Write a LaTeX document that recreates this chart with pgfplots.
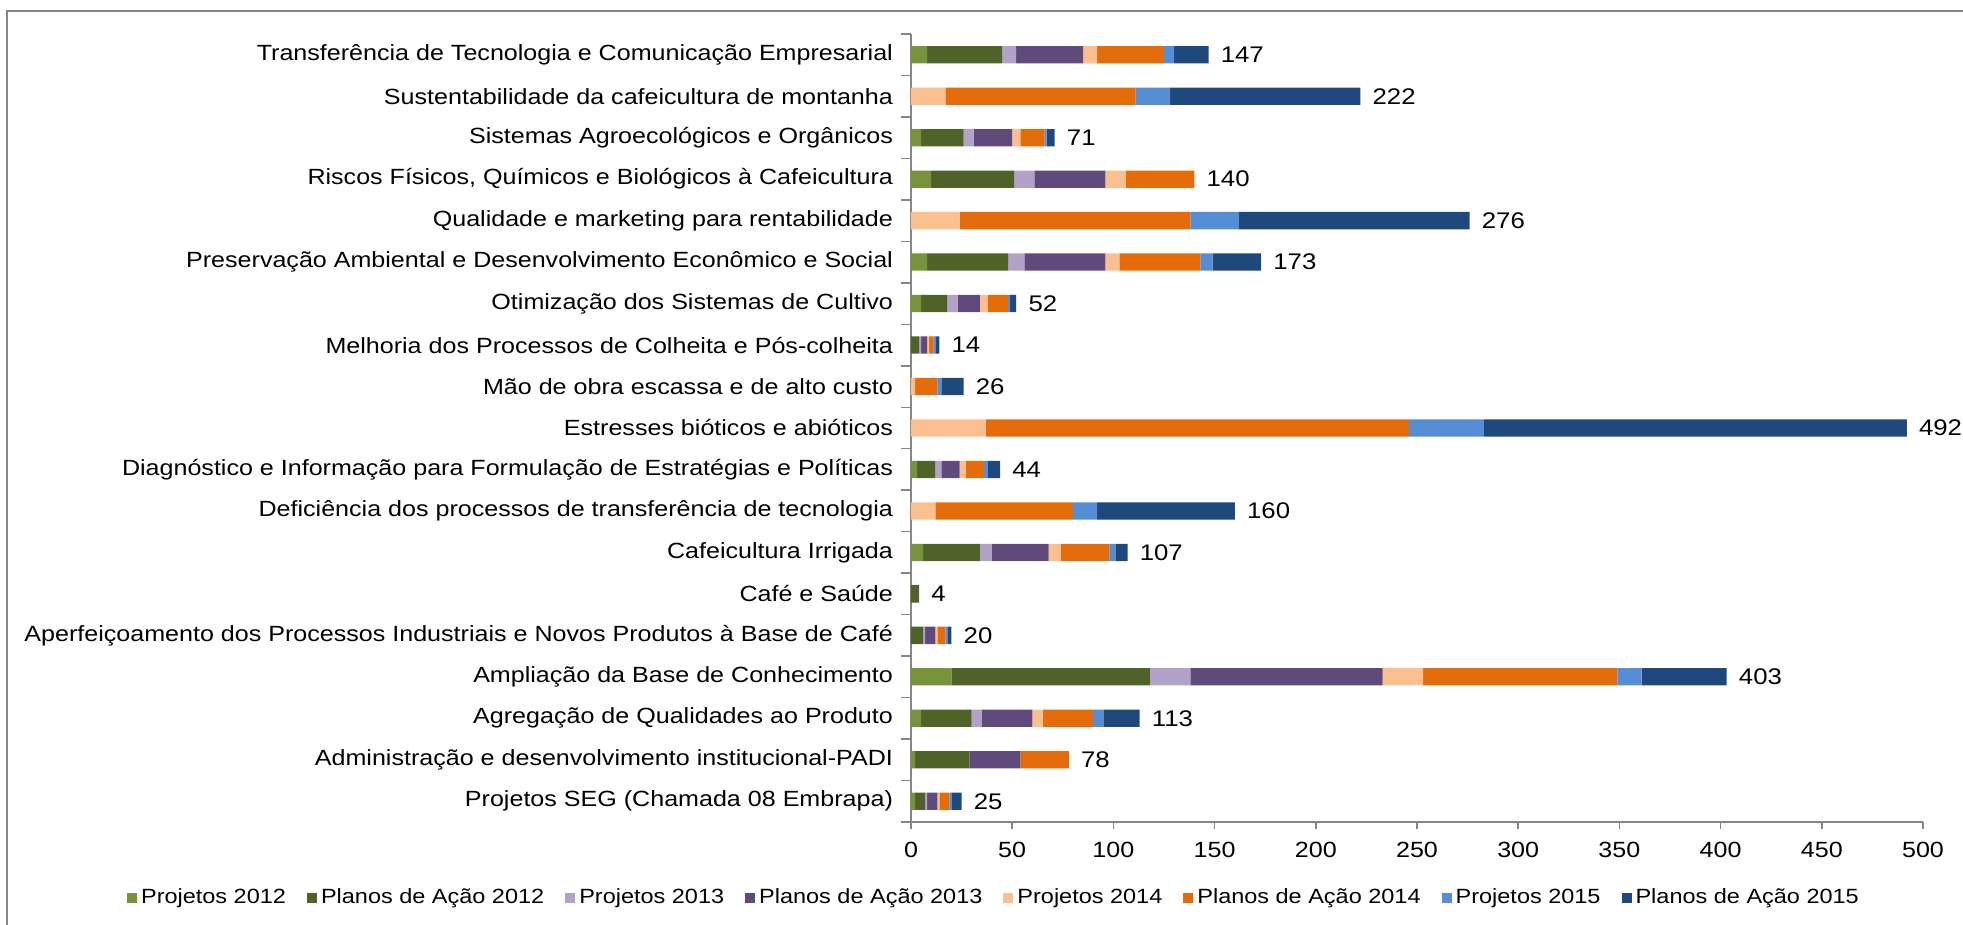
\documentclass[border=0pt]{standalone}
\usepackage{fontspec}
\setmainfont[FakeStretch=1.14]{Liberation Sans}
\usepackage{pgfplots}
\usepackage{pgfplotstable}
\pgfplotsset{compat=1.18}

\definecolor{axgray}{RGB}{134,134,134}
\definecolor{pA}{RGB}{119,147,60}
\definecolor{aA}{RGB}{79,98,40}
\definecolor{pB}{RGB}{178,162,199}
\definecolor{aB}{RGB}{96,74,123}
\definecolor{pC}{RGB}{250,192,144}
\definecolor{aC}{RGB}{228,108,10}
\definecolor{pD}{RGB}{85,142,213}
\definecolor{aD}{RGB}{31,73,125}

% y: 0 = bottom row (Projetos SEG) ... 18 = top row
\pgfplotstableread{
y  p12 a12 p13 a13 p14 a14 p15 a15 tot
0  2   5   1   5   1   5   1   5   25
1  2   27  0   25  0   24  0   0   78
2  5   25  5   25  5   25  5   18  113
3  20  98  20  95  20  96  12  42  403
4  0   6   1   5   1   4   1   2   20
5  0   4   0   0   0   0   0   0   4
6  6   28  6   28  6   24  3   6   107
7  0   0   0   0   12  68  12  68  160
8  3   9   3   9   3   9   2   6   44
9  0   0   0   0   37  209 37  209 492
10 0   0   0   0   2   11  2   11  26
11 0   4   1   3   1   2   1   2   14
12 5   13  5   11  4   10  1   3   52
13 8   40  8   40  7   40  6   24  173
14 0   0   0   0   24  114 24  114 276
15 10  41  10  35  10  34  0   0   140
16 5   21  5   19  4   12  1   4   71
17 0   0   0   0   17  94  17  94  222
18 8   37  7   33  7   33  5   17  147
}\datatable

\begin{document}
\begin{tikzpicture}
\path[use as bounding box] (-455.5pt,-51.5pt) rectangle (526pt,411pt);
\draw[axgray, line width=1pt] (-452pt,-60pt) -- (-452pt,405.5pt) -- (530pt,405.5pt);
\begin{axis}[
  scale only axis,
  width=506pt, height=394pt,
  xbar stacked, bar width=8.65pt,
  xmin=0, xmax=500, ymin=-0.5, ymax=18.5,
  enlargelimits=false,
  axis lines*=left,
  axis line style={axgray, line width=0.75pt},
  tick style={axgray, line width=0.75pt},
  tick align=outside,
  major tick length=3.5pt,
  minor tick length=5pt,
  xtick={0,50,...,500},
  ytick={0,...,18},
  minor ytick={-0.5,0.5,...,18.5},
  major y tick style={draw=none},
  yticklabels={
    Projetos SEG (Chamada 08 Embrapa),
    Administração e desenvolvimento institucional-PADI,
    Agregação de Qualidades ao Produto,
    Ampliação da Base de Conhecimento,
    Aperfeiçoamento dos Processos Industriais e Novos Produtos à Base de Café,
    Café e Saúde,
    Cafeicultura Irrigada,
    Deficiência dos processos de transferência de tecnologia,
    Diagnóstico e Informação para Formulação de Estratégias e Políticas,
    Estresses bióticos e abióticos,
    Mão de obra escassa e de alto custo,
    Melhoria dos Processos de Colheita e Pós-colheita,
    Otimização dos Sistemas de Cultivo,
    Preservação Ambiental e Desenvolvimento Econômico e Social,
    Qualidade e marketing para rentabilidade,
    {Riscos Físicos, Químicos e Biológicos à Cafeicultura},
    Sistemas Agroecológicos e Orgânicos,
    Sustentabilidade da cafeicultura de montanha,
    Transferência de Tecnologia e Comunicação Empresarial},
  /pgf/number format/assume math mode=true,
  tick label style={font=\fontsize{11}{13}\selectfont, text=black},
  yticklabel style={xshift=-2pt},
  xticklabel style={yshift=-3pt},
  legend columns=8,
  legend style={draw=none, fill=none, at={(axis description cs:0.083,-0.0964)},
    anchor=center, font=\fontsize{10.3}{12}\selectfont,
    /tikz/every even column/.append style={column sep=8.5pt}},
  legend image code/.code={\fill[#1] (0pt,-2.5pt) rectangle (5pt,2.5pt);},
  legend cell align=left,
]
\addplot[fill=pA, draw=none] table[x=p12, y=y] {\datatable};
\addplot[fill=aA, draw=none] table[x=a12, y=y] {\datatable};
\addplot[fill=pB, draw=none] table[x=p13, y=y] {\datatable};
\addplot[fill=aB, draw=none] table[x=a13, y=y] {\datatable};
\addplot[fill=pC, draw=none] table[x=p14, y=y] {\datatable};
\addplot[fill=aC, draw=none] table[x=a14, y=y] {\datatable};
\addplot[fill=pD, draw=none] table[x=p15, y=y] {\datatable};
\addplot[fill=aD, draw=none] table[x=a15, y=y] {\datatable};
\legend{Projetos 2012, Planos de Ação 2012, Projetos 2013, Planos de Ação 2013,
  Projetos 2014, Planos de Ação 2014, Projetos 2015, Planos de Ação 2015}
\end{axis}
% totals at the end of each bar
\begin{axis}[
  scale only axis,
  width=506pt, height=394pt,
  xmin=0, xmax=500, ymin=-0.5, ymax=18.5,
  enlargelimits=false, hide axis,
]
\addplot[only marks, mark=none, nodes near coords, point meta=explicit symbolic,
  nodes near coords style={anchor=west, xshift=2.6pt, text=black,
    font=\fontsize{11.3}{13}\selectfont}]
  table[x=tot, y=y, meta=tot] {\datatable};
\end{axis}
\end{tikzpicture}
\end{document}
